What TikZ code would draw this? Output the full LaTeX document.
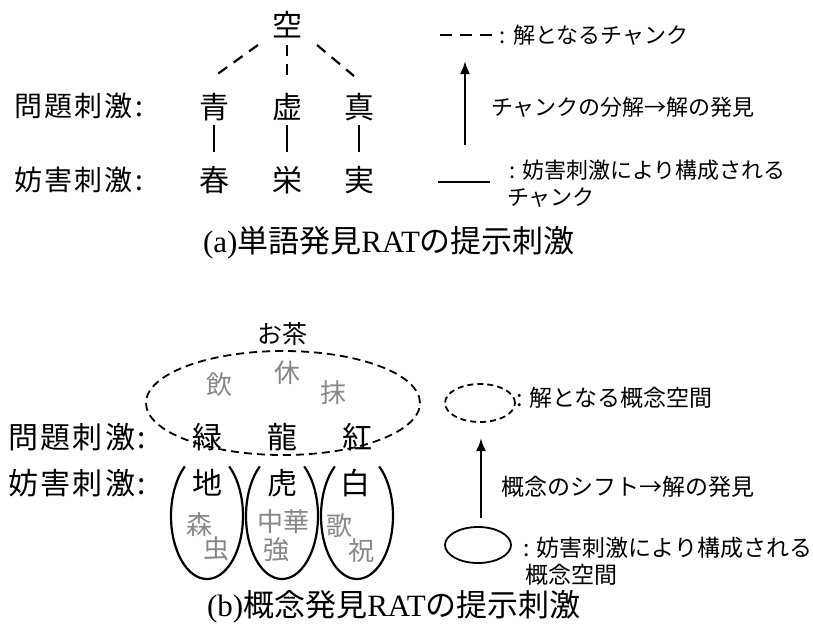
\documentclass[tikz,border=0pt]{standalone}
\usepackage{fontspec}
\setmainfont{Liberation Serif}
\newfontfamily\jp{Noto Sans CJK JP}
\newfontfamily\jpw[LetterSpace=8]{Noto Sans CJK JP}
\usetikzlibrary{arrows.meta,shapes.geometric,calc}
\definecolor{kgray}{RGB}{135,135,135}
\tikzset{
  big/.style={font=\jp\fontsize{30}{34}\selectfont, inner sep=0},
  laba/.style={font=\jpw\fontsize{28}{32}\selectfont, inner sep=0, anchor=west},
  labb/.style={font=\jpw\fontsize{30}{34}\selectfont, inner sep=0, anchor=west},
  smalla/.style={font=\jp\fontsize{22}{26}\selectfont, inner sep=0, anchor=west},
  smallb/.style={font=\jp\fontsize{23}{27}\selectfont, inner sep=0, anchor=west},
  gr/.style={font=\jp\fontsize{26}{29}\selectfont, inner sep=0, text=kgray},
  capt/.style={font=\fontsize{31}{34}\selectfont, inner sep=0},
  dsh/.style={dash pattern=on 11pt off 8pt, line width=2.2},
  sol/.style={line width=2.2},
  arr/.style={line width=2.2, -{Latex[length=13pt,width=10pt]}},
}
\begin{document}
\begin{tikzpicture}[x=1pt,y=-1pt]
\useasboundingbox (0,0) rectangle (813,635);
% ---------- (a) ----------
\node[big] (kong) at (287,25) {空};
\node[laba] (qa) at (14,106) {問題刺激:};
\node[big] (ao) at (214,107) {青};
\node[big] (kyo) at (287,107) {虚};
\node[big] (shin) at (359,107) {真};
\node[laba] (ba) at (14,180) {妨害刺激:};
\node[big] (haru) at (214,180) {春};
\node[big] (sakae) at (287,180) {栄};
\node[big] (mi) at (359,180) {実};
\coordinate (k1) at (258,45); \coordinate (a1) at (212,78);
\coordinate (k2) at (287,45); \coordinate (a2) at (287,76);
\coordinate (k3) at (317,45); \coordinate (a3) at (354,76);
\draw[dsh] (k1) -- (a1);
\draw[dsh] (k2) -- (a2);
\draw[dsh] (k3) -- (a3);
\draw[sol] ($(ao)+(0,18)$) -- ($(haru)+(0,-28)$);
\draw[sol] ($(kyo)+(0,18)$) -- ($(sakae)+(0,-28)$);
\draw[sol] ($(shin)+(0,18)$) -- ($(mi)+(0,-28)$);
% legend (a)
\coordinate (la1) at (440,35); \coordinate (la2) at (492,35);
\draw[line width=2.2, dash pattern=on 12pt off 8pt] (la1) -- (la2);
\node[smalla] (ta1) at (499,35) {:\hspace{8pt}解となるチャンク};
\coordinate (ar1a) at (465,145); \coordinate (ar1b) at (465,61);
\draw[arr] (ar1a) -- (ar1b);
\node[smalla] (ta2) at (491,107) {チャンクの分解→解の発見};
\coordinate (lb1) at (438,182); \coordinate (lb2) at (490,182);
\draw[sol] (lb1) -- (lb2);
\node[smalla] (ta3) at (509,170) {:\hspace{7pt}妨害刺激により構成される};
\node[smalla] (ta4) at (507,198) {チャンク};
\node[capt] (capa) at (389,243) {(a){\jp 単語発見}RAT{\jp の提示刺激}};
% ---------- (b) ----------
\node[font=\jp\fontsize{25}{28}\selectfont, inner sep=0] (ocha) at (282,334) {お茶};
\node[draw, ellipse, dash pattern=on 8pt off 5pt, line width=1.8, minimum width=274, minimum height=104, inner sep=0] (solb) at (283,403) {};
\node[gr] (in) at (219,385) {飲};
\node[gr] (kyu) at (287,373) {休};
\node[gr] (mat) at (333,393) {抹};
\node[labb] (qb) at (8,437) {問題刺激:};
\node[big] (mid) at (207,437) {緑};
\node[big] (ryu) at (282,437) {龍};
\node[big] (ko) at (357,437) {紅};
\node[labb] (bb) at (8,483) {妨害刺激:};
\node[big] (chi) at (207,483) {地};
\node[big] (tora) at (282,483) {虎};
\node[big] (shiro) at (355,483) {白};
\coordinate (e1) at (207,516);
\coordinate (e2) at (282,516);
\coordinate (e3) at (357,516);
\draw[sol] (e1) ++(232:36 and 63) arc[start angle=232, end angle=-52, x radius=36, y radius=63];
\draw[sol] (e2) ++(232:36 and 63) arc[start angle=232, end angle=-52, x radius=36, y radius=63];
\draw[sol] (e3) ++(232:36 and 63) arc[start angle=232, end angle=-52, x radius=36, y radius=63];
\node[gr] (mori) at (199,525) {森};
\node[gr] (mushi) at (216,549) {虫};
\node[gr] (chuka) at (283,522) {中華};
\node[gr] (tsuyo) at (276,550) {強};
\node[gr] (uta) at (339,526) {歌};
\node[gr] (iwai) at (361,551) {祝};
% legend (b)
\node[draw, ellipse, dash pattern=on 6pt off 4pt, line width=1.8, minimum width=70, minimum height=38, inner sep=0] (le1) at (480,403) {};
\node[smallb] (tb1) at (516,398) {:\hspace{7pt}解となる概念空間};
\coordinate (ar2a) at (481,518); \coordinate (ar2b) at (481,438);
\draw[arr] (ar2a) -- (ar2b);
\node[smallb] (tb2) at (501,487) {概念のシフト→解の発見};
\node[draw, ellipse, line width=1.8, minimum width=66, minimum height=36, inner sep=0] (le2) at (478,545) {};
\node[smallb] (tb3) at (523,548) {:\hspace{7pt}妨害刺激により構成される};
\node[smallb] (tb4) at (525,575) {概念空間};
\node[capt] (capb) at (394,607) {(b){\jp 概念発見}RAT{\jp の提示刺激}};
\end{tikzpicture}
\end{document}
